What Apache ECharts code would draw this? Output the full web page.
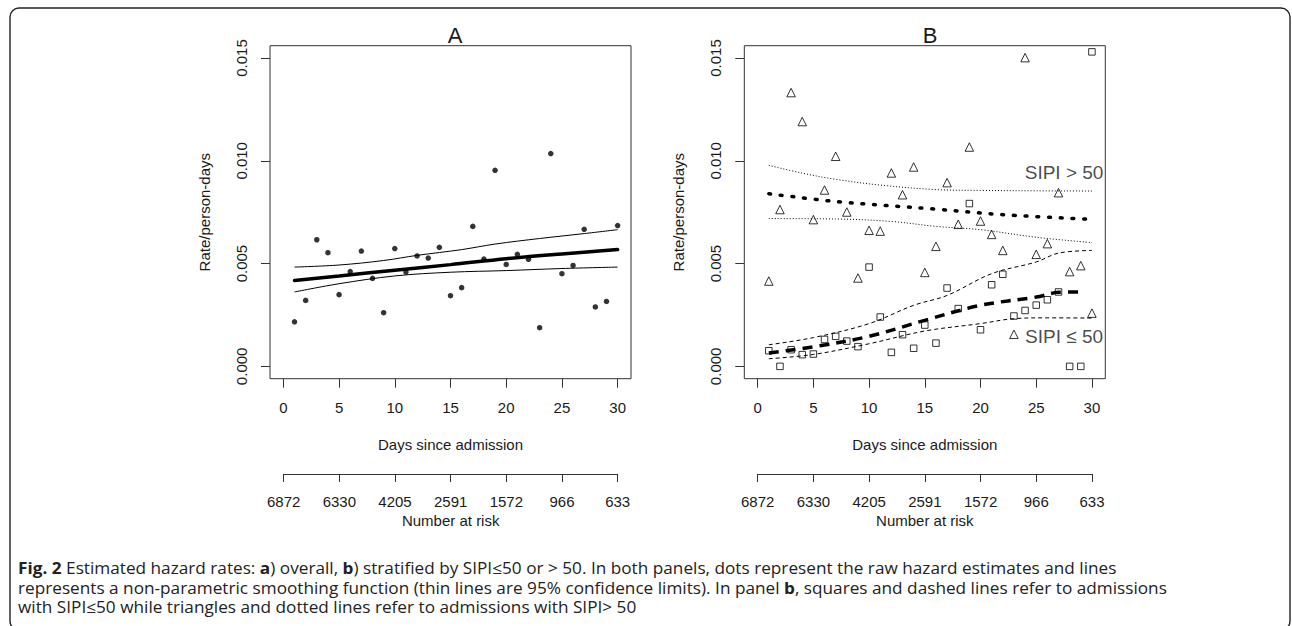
<!DOCTYPE html>
<html><head><meta charset="utf-8">
<script src="https://cdn.jsdelivr.net/npm/echarts@6/dist/echarts.min.js"></script>
<style>html,body{margin:0;padding:0;background:#fff}#c{width:1292px;height:626px}</style>
</head><body><div id="c"></div>
<script>
// ---------- data ----------
const days = [1,2,3,4,5,6,7,8,9,10,11,12,13,14,15,16,17,18,19,20,21,22,23,24,25,26,27,28,29,30];
const xTicks = [0,5,10,15,20,25,30];
const yTicks = [0,0.005,0.010,0.015];
const riskLabels = ['6872','6330','4205','2591','1572','966','633'];

// Panel A: raw hazard estimates (overall)
const rateAll = [0.00217,0.00321,0.00616,0.00553,0.00349,0.00461,0.00561,0.00428,0.00261,0.00573,
                 0.00459,0.00537,0.00527,0.00579,0.00344,0.00383,0.00681,0.00522,0.00954,0.00496,
                 0.00545,0.00521,0.00188,0.01035,0.00451,0.00491,0.00667,0.00289,0.00316,0.00685];
const fitAll    = [[1,0.00418],[5,0.00440],[10,0.00468],[15,0.00495],[20,0.00524],[25,0.00547],[30,0.00568]];
const fitAllUp  = [[1,0.00483],[5,0.00493],[9,0.00515],[12,0.00540],[16,0.00568],[19,0.00595],[23,0.00622],[27,0.00646],[30,0.00665]];
const fitAllLo  = [[1,0.00362],[5,0.00402],[10,0.00440],[15,0.00458],[20,0.00466],[25,0.00476],[30,0.00483]];

// Panel B: SIPI > 50 (triangles, dotted)
const rateHigh = [0.00415,0.00763,0.01332,0.01191,0.00714,0.00858,0.01022,0.00751,0.00430,0.00662,
                  0.00658,0.00941,0.00835,0.00970,0.00457,0.00584,0.00894,0.00691,0.01067,0.00707,
                  0.00642,0.00564,0.00156,0.01502,0.00545,0.00597,0.00845,0.00461,0.00490,0.00259];
const fitHigh   = [[1,0.00840],[7,0.00802],[16,0.00765],[22,0.00738],[30,0.00715]];
const fitHighUp = [[1,0.00978],[4,0.00940],[7,0.00910],[11,0.00882],[16,0.00860],[20,0.00856],[25,0.00854],[30,0.00853]];
const fitHighLo = [[1,0.00719],[7,0.00717],[12,0.00705],[16,0.00681],[20,0.00665],[25,0.00628],[30,0.00602]];

// Panel B: SIPI <= 50 (squares, dashed)
const rateLow = [0.00076,0.00000,0.00081,0.00057,0.00060,0.00131,0.00146,0.00123,0.00096,0.00483,
                 0.00240,0.00068,0.00154,0.00088,0.00201,0.00113,0.00381,0.00281,0.00792,0.00178,
                 0.00397,0.00448,0.00245,0.00272,0.00298,0.00324,0.00362,0.00000,0.00000,0.01530];
const fitLow   = [[1,0.00065],[5,0.00095],[10,0.00146],[15,0.00224],[20,0.00297],[25,0.00337],[27,0.00360],[29,0.00362]];
const fitLowUp = [[1,0.00105],[5,0.00140],[10,0.00208],[14,0.00297],[17,0.00345],[21,0.00451],[25,0.00508],[27,0.00551],[30,0.00564]];
const fitLowLo = [[1,0.00037],[5,0.00058],[10,0.00110],[15,0.00172],[20,0.00208],[23,0.00232],[26,0.00236],[30,0.00235]];

const groupLabels = [{text:'SIPI > 50', x:27.5, y:0.00943},{text:'SIPI \u2264 50', x:27.5, y:0.00146}];

const captionLines = [
  '{b|Fig. 2} Estimated hazard rates: {b|a}) overall, {b|b}) stratified by SIPI\u226450 or > 50. In both panels, dots represent the raw hazard estimates and lines',
  'represents a non-parametric smoothing function (thin lines are 95% confidence limits). In panel {b|b}, squares and dashed lines refer to admissions',
  'with SIPI\u226450 while triangles and dotted lines refer to admissions with SIPI> 50'
];

// ---------- chart ----------
const AX = '#333', TXT = '#1a1a1a', FONT = 'Liberation Sans, Arial, Helvetica, sans-serif';
const CAP = '"Open Sans", sans-serif', CAPSIZE = 16, CAPLH = 19.4, CAPSCALE = 1.075;
const pair = (xs, ys) => xs.map((x,i)=>[x, ys[i]]);

function mainX(gi){
  return {gridIndex:gi, type:'value', min:-1.2, max:31.2,
    name:'Days since admission', nameLocation:'middle', nameGap:58,
    nameTextStyle:{fontFamily:FONT, fontSize:15, color:TXT},
    axisLine:{show:false, onZero:false}, splitLine:{show:false},
    axisTick:{show:true, length:9, customValues:xTicks, lineStyle:{color:AX}},
    axisLabel:{customValues:xTicks, margin:21, fontFamily:FONT, fontSize:15, color:TXT}};
}
function riskX(gi){
  return {gridIndex:gi, type:'value', min:0, max:30, interval:5, position:'bottom',
    name:'Number at risk', nameLocation:'middle', nameGap:39,
    nameTextStyle:{fontFamily:FONT, fontSize:15, color:TXT},
    axisLine:{show:true, onZero:false, lineStyle:{color:AX, width:1}}, splitLine:{show:false},
    axisTick:{show:true, length:8, lineStyle:{color:AX}},
    axisLabel:{margin:20, fontFamily:FONT, fontSize:15, color:TXT,
      formatter:v=>riskLabels[Math.round(v/5)]}};
}
function mainY(gi){
  return {gridIndex:gi, type:'value', min:-0.0006, max:0.0156,
    name:'Rate/person-days', nameLocation:'middle', nameGap:58,
    nameTextStyle:{fontFamily:FONT, fontSize:15, color:TXT},
    axisLine:{show:false, onZero:false}, splitLine:{show:false},
    axisTick:{show:true, length:9, customValues:yTicks, lineStyle:{color:AX}},
    axisLabel:{customValues:yTicks, rotate:90, margin:21, fontFamily:FONT, fontSize:15, color:TXT,
      formatter:v=>v.toFixed(3)}};
}
function hiddenY(gi){
  return {gridIndex:gi, type:'value', show:false, min:0, max:1};
}
function line(xi, yi, data, width, dash, cap){
  return {type:'line', xAxisIndex:xi, yAxisIndex:yi, data, showSymbol:false, symbol:'none',
    smooth:0.35, silent:true,
    lineStyle:{color:'#000', width, type:dash, cap:cap||'butt'}};
}
function scatter(xi, yi, data, symbol, size, hollow){
  return {type:'scatter', xAxisIndex:xi, yAxisIndex:yi, data, symbol, symbolSize:size, silent:true,
    itemStyle: hollow ? {color:'rgba(0,0,0,0)', borderColor:'#000', borderWidth:1}
                      : {color:'#000', borderWidth:0}};
}

const chart = echarts.init(document.getElementById('c'), null, {renderer:'svg'});
chart.setOption({
  animation:false,
  backgroundColor:'#fff',
  title:[
    {text:'A', left:450, top:19, textAlign:'center', textStyle:{fontFamily:FONT, fontSize:22, fontWeight:'normal', color:TXT}},
    {text:'B', left:925, top:19, textAlign:'center', textStyle:{fontFamily:FONT, fontSize:22, fontWeight:'normal', color:TXT}}
  ],
  grid:[
    {left:270, top:45.7, width:361, height:333, show:true, borderColor:AX, borderWidth:1, backgroundColor:'transparent'},
    {left:744.3, top:45.7, width:361, height:333, show:true, borderColor:AX, borderWidth:1, backgroundColor:'transparent'},
    {left:283.7, top:473, width:334, height:1},
    {left:757.7, top:473, width:334.3, height:1}
  ],
  xAxis:[mainX(0), mainX(1), riskX(2), riskX(3)],
  yAxis:[mainY(0), mainY(1), hiddenY(2), hiddenY(3)],
  series:[
    scatter(0,0, pair(days, rateAll), 'circle', 5.5, false),
    line(0,0, fitAll, 3.5, 'solid', 'round'),
    line(0,0, fitAllUp, 1, 'solid'),
    line(0,0, fitAllLo, 1, 'solid'),

    scatter(1,1, pair(days, rateHigh), 'triangle', 8.5, true),
    scatter(1,1, pair(days, rateLow), 'rect', 6.5, true),
    line(1,1, fitHigh, 3.5, [1.8,9.9], 'round'),
    line(1,1, fitHighUp, 1, [1,2]),
    line(1,1, fitHighLo, 1, [1,2]),
    line(1,1, fitLow, 3.5, [10,7]),
    line(1,1, fitLowUp, 1, [4,3]),
    line(1,1, fitLowLo, 1, [4,3]),
    {type:'scatter', xAxisIndex:1, yAxisIndex:1, symbolSize:0, silent:true,
      data: groupLabels.map(g=>({value:[g.x,g.y], name:g.text})),
      label:{show:true, position:'inside', formatter:p=>p.name, fontFamily:FONT, fontSize:19, color:TXT}}
  ],
  graphic:[
    {type:'rect', shape:{x:10, y:8, width:1280, height:622, r:9}, style:{fill:'none', stroke:'#222', lineWidth:1.4}, silent:true},
    {type:'text', x:18, y:568 - CAPLH/2, scaleX:CAPSCALE, silent:true, style:{
      text: captionLines.join('\n'), verticalAlign:'top', fontFamily:CAP, fontSize:CAPSIZE,
      lineHeight:CAPLH, fill:'#222',
      rich:{b:{fontWeight:'bold', fontFamily:CAP, fontSize:CAPSIZE, lineHeight:CAPLH, fill:'#222'}}}}
  ]
});
</script></body></html>
